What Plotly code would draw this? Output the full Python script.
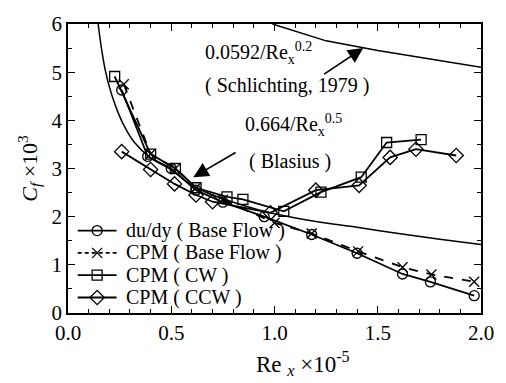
import plotly.graph_objects as go

# ---- data (Re_x x 1e-5 , Cf x 1e3) ----
dudy_x = [0.26, 0.386, 0.50, 0.62, 0.75, 0.95, 1.18, 1.40, 1.62, 1.755, 1.967]
dudy_y = [4.63, 3.25, 3.00, 2.55, 2.30, 2.00, 1.63, 1.24, 0.81, 0.645, 0.36]

cpm_base_x = [0.27, 0.40, 0.52, 0.62, 0.75, 1.00, 1.18, 1.405, 1.62, 1.76, 1.967]
cpm_base_y = [4.75, 3.30, 3.00, 2.60, 2.35, 1.87, 1.65, 1.28, 0.95, 0.80, 0.65]

cpm_cw_x = [0.226, 0.40, 0.52, 0.62, 0.77, 0.847, 1.045, 1.225, 1.42, 1.543, 1.71]
cpm_cw_y = [4.91, 3.30, 3.00, 2.60, 2.41, 2.36, 2.11, 2.51, 2.82, 3.54, 3.60]

cpm_ccw_x = [0.26, 0.40, 0.516, 0.62, 0.70, 0.98, 1.20, 1.41, 1.56, 1.685, 1.88]
cpm_ccw_y = [3.35, 2.98, 2.68, 2.45, 2.31, 2.08, 2.55, 2.65, 3.23, 3.40, 3.27]

blasius_x = [0.146, 0.16, 0.18, 0.20, 0.23, 0.27, 0.32, 0.40, 0.50, 0.60, 0.70, 0.80,
             0.90, 1.00, 1.20, 1.40, 1.60, 1.80, 2.00]
blasius_y = [6.00, 5.55, 5.05, 4.70, 4.30, 3.90, 3.55, 3.22, 2.97, 2.65, 2.45, 2.30,
             2.17, 2.06, 1.90, 1.78, 1.65, 1.53, 1.42]

schl_x = [0.99, 1.25, 1.50, 1.75, 2.00]
schl_y = [6.00, 5.65, 5.45, 5.28, 5.10]

series_names = ["du/dy ( Base Flow )", "CPM ( Base Flow )", "CPM ( CW )", "CPM ( CCW )"]
series_symbols = ["circle-open", "x-thin-open", "square-open", "diamond-open"]
series_dash = ["solid", "dash", "solid", "solid"]
series_sizes = [10, 10, 10, 11]

x_ticks = [0.0, 0.5, 1.0, 1.5, 2.0]
x_ticklabels = ["0.0", "0.5", "1.0", "1.5", "2.0"]
y_ticks = [0, 1, 2, 3, 4, 5, 6]

FONT = "Liberation Serif"
BLACK = "black"

fig = go.Figure()

# reference curves
fig.add_trace(go.Scatter(x=blasius_x, y=blasius_y, mode="lines",
                         line=dict(color=BLACK, width=1.5, shape="spline"),
                         showlegend=False, hoverinfo="skip"))
fig.add_trace(go.Scatter(x=schl_x, y=schl_y, mode="lines",
                         line=dict(color=BLACK, width=1.5),
                         showlegend=False, hoverinfo="skip"))

data = [(dudy_x, dudy_y), (cpm_base_x, cpm_base_y), (cpm_cw_x, cpm_cw_y), (cpm_ccw_x, cpm_ccw_y)]
for (xs, ys), nm, sym, ds, sz in zip(data, series_names, series_symbols, series_dash, series_sizes):
    fig.add_trace(go.Scatter(x=xs, y=ys, mode="lines+markers", name=nm,
                             line=dict(color=BLACK, width=1.8, dash=ds),
                             marker=dict(symbol=sym, size=sz, color=BLACK,
                                         line=dict(color=BLACK, width=1.3)),
                             showlegend=False))

# manual legend on an auxiliary pixel-like axis pair (x2: 0..425, y2: 0..298)
leg_rows = [85, 62, 39, 16]
for row, nm, sym, ds, sz in zip(leg_rows, series_names, series_symbols, series_dash, series_sizes):
    fig.add_trace(go.Scatter(x=[10, 30, 50], y=[row, row, row], xaxis="x2", yaxis="y2",
                             mode="lines", line=dict(color=BLACK, width=1.8, dash=("4px,3px" if ds == "dash" else ds)),
                             showlegend=False, hoverinfo="skip"))
    fig.add_trace(go.Scatter(x=[30], y=[row], xaxis="x2", yaxis="y2", mode="markers",
                             marker=dict(symbol=sym, size=sz, color=BLACK,
                                         line=dict(color=BLACK, width=1.3)),
                             showlegend=False, hoverinfo="skip"))
    fig.add_annotation(x=58, y=row, xref="x2", yref="y2", text=nm, showarrow=False,
                       xanchor="left", yanchor="middle",
                       font=dict(family=FONT, size=20, color=BLACK))

tf = dict(family=FONT, size=20, color=BLACK)

annos = [
    dict(x=0.654, y=5.40, text="0.0592/Re<sub>x</sub><sup>0.2</sup>"),
    dict(x=0.654, y=4.72, text="( Schlichting, 1979 )"),
    dict(x=0.847, y=3.90, text="0.664/Re<sub>x</sub><sup>0.5</sup>"),
    dict(x=0.866, y=3.15, text="( Blasius )"),
]
for a in annos:
    fig.add_annotation(x=a["x"], y=a["y"], text=a["text"], showarrow=False,
                       xanchor="left", yanchor="middle", font=tf)

# arrows
fig.add_annotation(x=1.43, y=5.50, ax=1.233, ay=4.94, xref="x", yref="y",
                   axref="x", ayref="y", text="", showarrow=True,
                   arrowhead=2, arrowsize=1.9, arrowwidth=1.6, arrowcolor=BLACK)
fig.add_annotation(x=0.607, y=2.82, ax=0.819, ay=3.35, xref="x", yref="y",
                   axref="x", ayref="y", text="", showarrow=True,
                   arrowhead=2, arrowsize=1.9, arrowwidth=1.6, arrowcolor=BLACK)

# x axis title
fig.add_annotation(x=0.57, y=-0.115, xref="paper", yref="paper",
                   text="Re <sub><i>x</i></sub> ×10<sup>-5</sup>", showarrow=False,
                   xanchor="center", yanchor="top",
                   font=dict(family=FONT, size=23, color=BLACK))

fig.update_layout(
    width=506, height=383,
    margin=dict(l=68, r=13, t=15, b=70),
    paper_bgcolor="white", plot_bgcolor="white",
    font=tf,
    showlegend=False,
    xaxis2=dict(range=[0, 425], overlaying="x", visible=False, fixedrange=True),
    yaxis2=dict(range=[0, 298], overlaying="y", visible=False, fixedrange=True),
)

fig.update_layout(xaxis=dict(range=[0, 2.0], tickvals=x_ticks, ticktext=x_ticklabels,
                 ticks="inside", ticklen=7, tickwidth=1.3, tickcolor=BLACK,
                 showline=True, linecolor=BLACK, linewidth=1.5, mirror="allticks",
                 showgrid=False, zeroline=False, tickfont=dict(family=FONT, size=21, color=BLACK),
                 minor=dict(dtick=0.1, ticks="inside", ticklen=4, tickcolor=BLACK, showgrid=False)))
fig.update_layout(yaxis=dict(range=[0, 6], tickvals=y_ticks,
                 ticks="inside", ticklen=7, tickwidth=1.3, tickcolor=BLACK,
                 showline=True, linecolor=BLACK, linewidth=1.5, mirror="allticks",
                 showgrid=False, zeroline=False, tickfont=dict(family=FONT, size=21, color=BLACK),
                 minor=dict(dtick=0.5, ticks="inside", ticklen=4, tickcolor=BLACK, showgrid=False),
                 title=dict(text="<i>C<sub>f</sub></i> ×10<sup>3</sup>", standoff=8,
                            font=dict(family=FONT, size=22, color=BLACK))))

fig.write_html("out.html")
